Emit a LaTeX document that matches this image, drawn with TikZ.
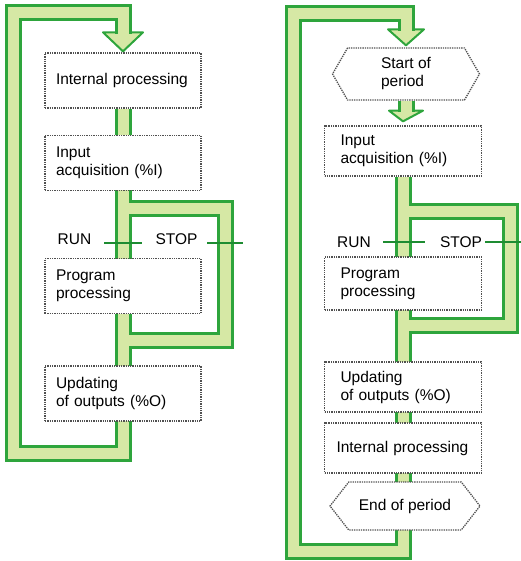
\documentclass[tikz,border=0pt]{standalone}
\usepackage{fontspec}
\setmainfont{Liberation Sans}
\usetikzlibrary{calc, shapes.symbols, backgrounds}
\definecolor{bandgreen}{RGB}{46,165,60}
\definecolor{bandfill}{RGB}{214,232,165}
\definecolor{boxgray}{RGB}{80,80,80}
\definecolor{tickgreen}{RGB}{30,140,50}

\tikzset{
  procbox/.style={draw=boxgray, densely dotted, line width=1.3pt, fill=white,
    text width=134pt, inner xsep=11pt, align=left, minimum height=55pt},
  procboxR/.style={procbox, text width=125pt, inner xsep=16pt, minimum height=50pt},
  hexbox/.style={signal, signal to=west and east, draw=boxgray, densely dotted,
    line width=1.3pt, fill=white, align=left, inner sep=0pt},
  modetext/.style={inner sep=0pt},
  modetick/.style={draw=tickgreen, line width=2pt},
  bandhead/.style={fill=bandfill, draw=bandgreen, line width=2pt, line join=round}
}

\begin{document}
\begin{tikzpicture}[x=1pt, y=-1pt, font=\fontsize{15.5}{18}\selectfont]
    \useasboundingbox (0,0) rectangle (520,561);

    % Left cycle
    \node[procbox] (intL) at (123,80.5) {Internal processing};
    \node[procbox] (inL) at (123,163) {Input\\acquisition (\%I)};
    \node[procbox] (progL) at (123,286) {Program\\processing};
    \node[procbox] (updL) at (123,393.5) {Updating\\of outputs (\%O)};
    \node[modetext] (runL) at (74.5,239) {RUN};
    \node[modetext] (stopL) at (176.5,239) {STOP};
    \coordinate (cornerL) at (13.5,13);
    \coordinate (baseL) at (13.5,453.5);
    \coordinate (stopTopL) at (225,208.5);
    \coordinate (stopBotL) at (225,340);

    % Right cycle
    \node[hexbox, minimum width=147pt, minimum height=52pt, signal pointer angle=120]
        (startR) at (406,74) {Start of\\period};
    \node[procboxR] (inR) at (403,151) {Input\\acquisition (\%I)};
    \node[procboxR, minimum height=53pt] (progR) at (403,283.5) {Program\\processing};
    \node[procboxR] (updR) at (403,387) {Updating\\of outputs (\%O)};
    \node[procboxR, text width=133pt, inner xsep=12pt] (intR) at (403,448) {Internal processing};
    \node[hexbox, minimum width=150pt, minimum height=48pt, signal pointer angle=104]
        (endR) at (405,506) {End of period};
    \node[modetext] (runR) at (354,242) {RUN};
    \node[modetext] (stopR) at (461,242) {STOP};
    \coordinate (cornerR) at (293.5,14);
    \coordinate (baseR) at (293.5,551);
    \coordinate (stopTopR) at (510,211.5);
    \coordinate (stopBotR) at (510,325);

    \begin{scope}[on background layer]
        % arrow heads
        \filldraw[bandhead] ($(intL.north)+(-20,-20)$) -- ($(intL.north)+(20,-20)$)
            -- ($(intL.north)+(0,-1)$) -- cycle;
        \filldraw[bandhead] ($(startR.north)+(-18,-18)$) -- ($(startR.north)+(18,-18)$)
            -- ($(startR.north)+(0,-2)$) -- cycle;
        \filldraw[bandhead] ($(startR.south)+(-17,10)$) -- ($(startR.south)+(17,10)$)
            -- ($(inR.north)+(0,-4)$) -- cycle;

        % bands: border first, then filling
        \foreach \w/\c in {17pt/bandgreen, 11pt/bandfill} {
            \draw[line width=\w, \c] ($(intL.north)+(0,-18.5)$) |- (cornerL) -- (baseL) -| (intL.south);
            \draw[line width=\w, \c] (inL.south |- stopTopL) -- (stopTopL) -- (stopBotL)
                -- (progL.south |- stopBotL);
            \draw[line width=\w, \c] ($(startR.north)+(0,-16.5)$) |- (cornerR) -- (baseR) -| (inR.south);
            \draw[line width=\w, \c] (startR.south) -- ($(startR.south)+(0,11.5)$);
            \draw[line width=\w, \c] (inR.south |- stopTopR) -- (stopTopR) -- (stopBotR)
                -- (progR.south |- stopBotR);
        }
    \end{scope}

    % RUN / STOP marks
    \draw[modetick] (104,243) -- (142,243);
    \draw[modetick] (207,243) -- (243,243);
    \draw[modetick] (383,242) -- (425,242);
    \draw[modetick] (485,242) -- (530,242);

\end{tikzpicture}
\end{document}
